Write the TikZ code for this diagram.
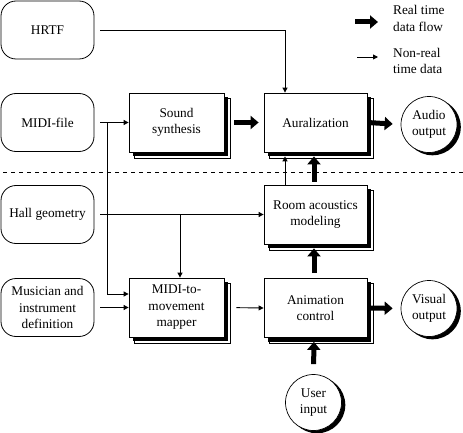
\documentclass[tikz,border=0pt]{standalone}
\usepackage{fontspec}
\setmainfont{Liberation Serif}
\usetikzlibrary{arrows.meta,backgrounds}
\newcommand{\boxshade}[1]{%
  \draw[line width=0.6pt, fill=white] ([shift={(5.5,5.5)}]#1.north west) rectangle ([shift={(5.5,5.5)}]#1.south east);
  \fill[black] ([shift={(4,4)}]#1.north west) rectangle ([shift={(4,4)}]#1.south east);}
\newcommand{\circshade}[1]{%
  \fill[black] ([shift={(3.5,2.5)}]#1.center) circle (28.3);}
\begin{document}
\begin{tikzpicture}[x=1pt,y=-1pt,
  every node/.style={font=\fontsize{13.3}{16.5}\selectfont, align=center, inner sep=0pt},
  src/.style={draw, line width=0.8pt, rounded corners=15pt, minimum width=93pt, minimum height=58pt},
  proc/.style={draw, line width=0.8pt, fill=white, minimum height=59pt},
  outc/.style={circle, draw, line width=0.7pt, fill=white, minimum size=56pt},
  thinarr/.style={line width=0.9pt, -{Triangle[length=5pt,width=5pt]}},
  thickarr/.style={line width=5pt, -{Triangle[length=8pt,width=13pt]}},
  legtext/.style={anchor=west, align=left}
]
\useasboundingbox (0,0) rectangle (463,433);

% sources
\node[src] (hrtf) at (47.5,30) {HRTF};
\node[src] (midi) at (47.5,122.5) {MIDI-file};
\node[src] (hall) at (47.5,214.5) {Hall geometry};
\node[src] (mus)  at (47.5,307.5) {Musician and\\instrument\\definition};

% processing boxes
\node[proc, minimum width=95pt] (synth) at (176.5,122.5) {Sound\\synthesis};
\node[proc, minimum width=103pt] (aur) at (315.5,122.5) {Auralization};
\node[proc, minimum width=103pt] (room) at (315.5,214.5) {Room acoustics\\modeling};
\node[proc, minimum width=103pt] (anim) at (315.5,308) {Animation\\control};
\node[proc, minimum width=95pt] (map) at (176.5,307.5) {MIDI-to-\\movement\\mapper};

% outputs / inputs
\node[outc] (audio) at (429,124.5) {Audio\\output};
\node[outc] (visual) at (429,308.5) {Visual\\output};
\node[outc] (user) at (313.5,402.5) {User\\input};

\begin{scope}[on background layer]
  \boxshade{synth}
  \boxshade{aur}
  \boxshade{room}
  \boxshade{anim}
  \boxshade{map}
  \circshade{audio}
  \circshade{visual}
  \circshade{user}
\end{scope}

% dashed separator
\coordinate (dl) at (3,172);
\coordinate (dr) at (463,172);
\draw[line width=0.8pt, dash pattern=on 4pt off 4pt] (dl) -- (dr);

% legend
\coordinate (l1a) at (355,22);
\coordinate (l1b) at (378,22);
\coordinate (l2a) at (357,57);
\coordinate (l2b) at (378,57);
\draw[thickarr] (l1a) -- (l1b);
\draw[thinarr] (l2a) -- (l2b);
\node[legtext] (lt1) at (393,18.5) {Real time\\data flow};
\node[legtext] (lt2) at (393,61) {Non-real\\time data};

% thin connectors
\draw[thinarr, shorten <=6pt] (hrtf.east) -| ([xshift=-30.5pt]aur.north);
\draw[thinarr, shorten <=6pt] (midi.east) -- (synth.west);
\coordinate (j1) at (107,122.5);
\draw[thinarr] (j1) |- ([yshift=13.5pt]map.west);
\draw[thinarr, shorten <=6pt] (hall.east) -- (room.west);
\coordinate (j2) at (180,214.5);
\draw[thinarr] (j2) -- (j2 |- map.north);
\draw[thinarr, shorten <=6pt] (mus.east) -- (map.west);
\draw[thinarr, shorten <=12pt] (map.east) -- (anim.west);
\draw[thinarr, shorten >=4pt] ([xshift=-30.5pt]room.north) -- ([xshift=-30.5pt]aur.south);

% thick connectors
\draw[thickarr, shorten <=10pt, shorten >=5pt] (synth.east) -- (aur.west);
\draw[thickarr, shorten <=3pt, shorten >=8pt] (aur.east) -- (audio.west);
\draw[thickarr, shorten <=3pt, shorten >=4pt] ([xshift=-1.5pt]room.north) -- ([xshift=-1.5pt]aur.south);
\draw[thickarr, shorten <=5pt, shorten >=4pt] ([xshift=-1.5pt]anim.north) -- ([xshift=-1.5pt]room.south);
\draw[thickarr, shorten <=3pt, shorten >=8pt] (anim.east) -- (visual.west);
\draw[thickarr, shorten <=10pt, shorten >=4pt] (user.north) -- ([xshift=-1.5pt]anim.south);
\end{tikzpicture}
\end{document}
